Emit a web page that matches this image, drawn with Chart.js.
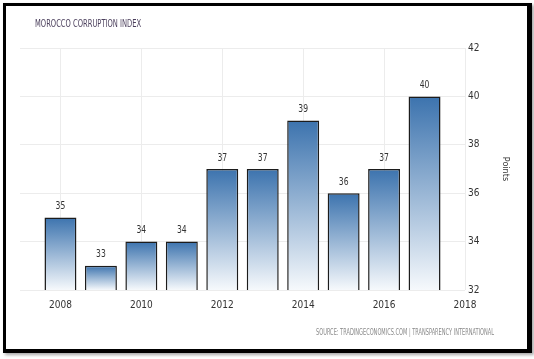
<!DOCTYPE html>
<html>
<head>
<meta charset="utf-8">
<script src="https://cdn.jsdelivr.net/npm/chart.js@4.4.1/dist/chart.umd.min.js"></script>
<style>
  body { margin: 0; background: #fff; }
  #wrap { position: absolute; left: 0; top: 0; width: 534px; height: 359px; }
  #frame {
    position: absolute; left: 3px; top: 3px; width: 529px; height: 350px;
    box-sizing: border-box; border-style: solid; border-color: #000;
    border-width: 3px 5px 4px 3px;
    box-shadow: 2px 2px 3px rgba(0, 0, 0, 0.35);
    pointer-events: none;
  }
</style>
</head>
<body>
<div id="wrap"><canvas id="myChart" width="534" height="359"></canvas></div>
<div id="frame"></div>
<script>
'use strict';

// data
const years = [2008, 2009, 2010, 2011, 2012, 2013, 2014, 2015, 2016, 2017];
const scores = [35, 33, 34, 34, 37, 37, 39, 36, 37, 40];
const yTicks = [32, 34, 36, 38, 40, 42];
const xTicks = [2008, 2010, 2012, 2014, 2016, 2018];

const chartTitle = 'MOROCCO CORRUPTION INDEX';
const sourceText = 'SOURCE: TRADINGECONOMICS.COM | TRANSPARENCY INTERNATIONAL';

const narrow = "'DejaVu Sans Condensed', 'Liberation Sans Narrow', sans-serif";

function barGradient(context) {
  const chart = context.chart;
  const area = chart.chartArea;
  if (!area || context.type !== 'data') return '#4a7fb8';
  const top = chart.scales.y.getPixelForValue(context.raw.y);
  const g = chart.ctx.createLinearGradient(0, top, 0, area.bottom);
  g.addColorStop(0, '#3c73ae');
  g.addColorStop(1, '#f6f9fc');
  return g;
}

// squeezed text, the original uses a narrow face
function narrowText(ctx, text, x, y, sx) {
  ctx.save();
  ctx.translate(x, y);
  ctx.scale(sx, 1);
  ctx.fillText(text, 0, 0);
  ctx.restore();
}

// labels on top of bars + title + source
const textPlugin = {
  id: 'textPlugin',
  afterDatasetsDraw(chart) {
    const ctx = chart.ctx;
    const meta = chart.getDatasetMeta(0);
    ctx.save();
    ctx.fillStyle = '#333';
    ctx.font = '10px ' + narrow;
    ctx.textAlign = 'center';
    ctx.textBaseline = 'bottom';
    meta.data.forEach(function (bar, i) {
      narrowText(ctx, String(scores[i]), bar.x, bar.y - 6, 0.85);
    });

    ctx.textAlign = 'left';
    ctx.textBaseline = 'middle';
    ctx.fillStyle = '#4b3f5c';
    ctx.font = '10px ' + narrow;
    narrowText(ctx, chartTitle, 35, 24, 0.75);

    ctx.textAlign = 'right';
    ctx.fillStyle = '#8a8a8a';
    ctx.font = '8px ' + narrow;
    narrowText(ctx, sourceText, 494, 333, 0.7);
    ctx.restore();
  }
};

const points = years.map(function (yr, i) { return { x: yr, y: scores[i] }; });

let chart = new Chart(document.getElementById('myChart'), {
  type: 'bar',
  data: {
    datasets: [{
      data: points,
      backgroundColor: barGradient,
      borderColor: '#1c1c1c',
      borderWidth: 1.5,
      borderSkipped: false,
      categoryPercentage: 1,
      barPercentage: 0.79
    }]
  },
  options: {
    responsive: false,
    animation: false,
    layout: { padding: { left: 20, right: 19, top: 48, bottom: 49 } },
    plugins: {
      legend: { display: false },
      tooltip: { enabled: false }
    },
    scales: {
      x: {
        type: 'linear',
        offset: false,
        min: 2007,
        max: 2018,
        afterBuildTicks: function (s) {
          s.ticks = xTicks.map(function (v) { return { value: v }; });
        },
        afterFit: function (s) { s.height = 20; },
        grid: { color: '#ececec', drawTicks: false, offset: false },
        border: { display: false },
        ticks: {
          padding: 9,
          color: '#333',
          font: { size: 10, family: narrow },
          callback: function (v) { return String(v); }
        }
      },
      y: {
        position: 'right',
        min: 32,
        max: 42,
        afterBuildTicks: function (s) {
          s.ticks = yTicks.map(function (v) { return { value: v }; });
        },
        afterFit: function (s) { s.width = 50; },
        grid: { color: '#ececec', drawTicks: false },
        border: { display: false },
        ticks: {
          padding: 3,
          color: '#333',
          font: { size: 10, family: narrow }
        },
        title: {
          display: true,
          text: 'Points',
          color: '#333',
          font: { size: 9, family: narrow },
          padding: { top: 4, bottom: 0 }
        }
      }
    }
  },
  plugins: [textPlugin]
});
</script>
</body>
</html>
